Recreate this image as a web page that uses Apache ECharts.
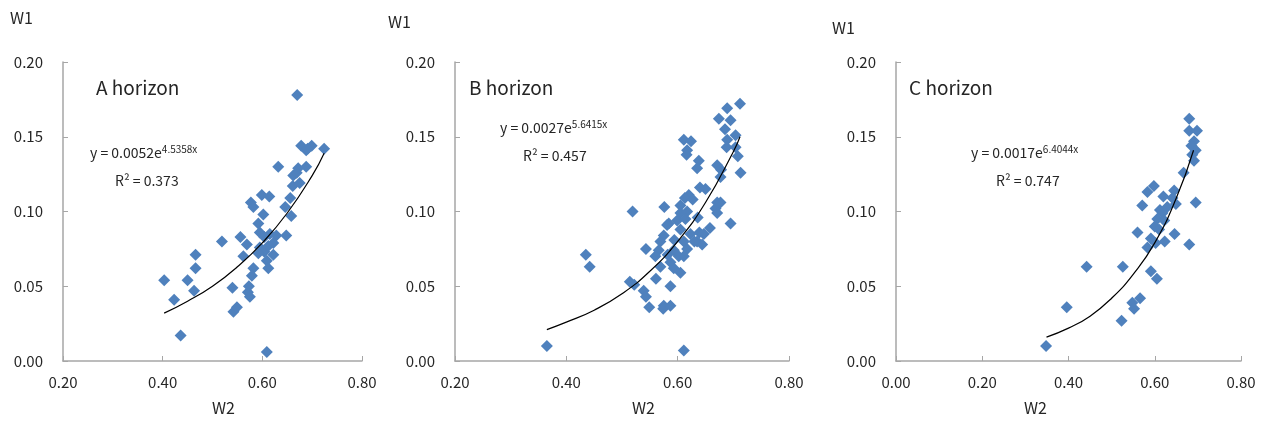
<!DOCTYPE html>
<html>
<head>
<meta charset="utf-8">
<script src="https://cdn.jsdelivr.net/npm/echarts@6/dist/echarts.min.js"></script>
<style>
  html, body { margin: 0; padding: 0; background: #fff; }
  #echart { width: 1265px; height: 426px; }
</style>
</head>
<body>
<div id="echart"></div>
<script>
// A horizon: [W2, W1]
var ptsA = [
  [0.670,0.178],[0.678,0.144],[0.699,0.144],[0.688,0.141],[0.724,0.142],[0.691,0.142],
  [0.632,0.130],[0.672,0.129],[0.688,0.130],[0.662,0.124],[0.669,0.126],[0.661,0.117],
  [0.675,0.119],[0.656,0.109],[0.646,0.103],[0.658,0.097],[0.648,0.084],[0.599,0.111],
  [0.614,0.110],[0.577,0.106],[0.582,0.103],[0.602,0.098],[0.592,0.092],[0.519,0.080],
  [0.556,0.083],[0.569,0.078],[0.595,0.086],[0.604,0.083],[0.615,0.085],[0.628,0.084],
  [0.595,0.076],[0.604,0.073],[0.622,0.071],[0.609,0.067],[0.562,0.070],[0.612,0.062],
  [0.582,0.062],[0.579,0.057],[0.573,0.050],[0.571,0.046],[0.575,0.043],[0.466,0.071],
  [0.466,0.062],[0.403,0.054],[0.450,0.054],[0.463,0.047],[0.423,0.041],[0.540,0.049],
  [0.542,0.033],[0.549,0.036],[0.436,0.017],[0.609,0.006],[0.622,0.079],[0.592,0.072],
  [0.612,0.077]
];
// B horizon
var ptsB = [
  [0.712,0.172],[0.689,0.169],[0.674,0.162],[0.695,0.161],[0.685,0.155],[0.704,0.151],
  [0.689,0.148],[0.688,0.143],[0.704,0.143],[0.611,0.148],[0.624,0.147],[0.617,0.141],
  [0.616,0.138],[0.638,0.134],[0.635,0.129],[0.708,0.137],[0.713,0.126],[0.671,0.131],
  [0.678,0.128],[0.677,0.123],[0.519,0.100],[0.576,0.103],[0.640,0.116],[0.650,0.115],
  [0.620,0.111],[0.613,0.109],[0.627,0.108],[0.605,0.104],[0.671,0.106],[0.677,0.106],
  [0.668,0.102],[0.671,0.099],[0.695,0.092],[0.605,0.099],[0.617,0.100],[0.599,0.094],
  [0.614,0.095],[0.636,0.096],[0.584,0.092],[0.581,0.091],[0.575,0.084],[0.605,0.088],
  [0.623,0.085],[0.639,0.086],[0.658,0.089],[0.647,0.085],[0.635,0.080],[0.644,0.078],
  [0.630,0.080],[0.611,0.080],[0.569,0.080],[0.566,0.074],[0.594,0.081],[0.593,0.074],
  [0.617,0.075],[0.543,0.075],[0.560,0.070],[0.582,0.071],[0.611,0.070],[0.435,0.071],
  [0.442,0.063],[0.569,0.063],[0.587,0.066],[0.593,0.062],[0.605,0.059],[0.602,0.070],
  [0.514,0.053],[0.522,0.051],[0.561,0.055],[0.587,0.050],[0.539,0.047],[0.543,0.043],
  [0.549,0.036],[0.575,0.037],[0.574,0.035],[0.587,0.037],[0.365,0.010],[0.611,0.007]
];
// C horizon
var ptsC = [
  [0.680,0.162],[0.680,0.154],[0.698,0.154],[0.691,0.147],[0.685,0.144],[0.695,0.141],
  [0.687,0.138],[0.691,0.134],[0.667,0.126],[0.598,0.117],[0.583,0.113],[0.645,0.114],
  [0.620,0.110],[0.641,0.109],[0.649,0.105],[0.695,0.106],[0.571,0.104],[0.612,0.101],
  [0.618,0.099],[0.606,0.095],[0.622,0.094],[0.600,0.090],[0.560,0.086],[0.646,0.085],
  [0.591,0.082],[0.602,0.079],[0.623,0.080],[0.583,0.076],[0.680,0.078],[0.442,0.063],
  [0.526,0.063],[0.591,0.060],[0.605,0.055],[0.396,0.036],[0.566,0.042],[0.548,0.039],
  [0.552,0.035],[0.523,0.027],[0.348,0.010],[0.629,0.103],[0.610,0.088]
];
// trend curves
var fitA = [[0.403,0.032],[0.45,0.040],[0.50,0.050],[0.55,0.063],[0.60,0.079],[0.65,0.099],[0.70,0.124],[0.724,0.139]];
var fitB = [[0.365,0.021],[0.40,0.026],[0.45,0.034],[0.50,0.045],[0.55,0.060],[0.60,0.080],[0.65,0.106],[0.70,0.140],[0.712,0.150]];
var fitC = [[0.349,0.016],[0.40,0.022],[0.45,0.030],[0.50,0.042],[0.55,0.058],[0.60,0.079],[0.65,0.109],[0.69,0.141]];

var yTicks = [0, 0.05, 0.10, 0.15, 0.20];

var FONT = "'Noto Sans CJK KR', 'Noto Sans', sans-serif";
var TXT = '#262626';
var AXC = '#a6a6a6';

var panels = [
  { pts: ptsA, fit: fitA, left: 63, right: 903, xmin: 0.2 },
  { pts: ptsB, fit: fitB, left: 455, right: 476, xmin: 0.2 },
  { pts: ptsC, fit: fitC, left: 896, right: 24, xmin: 0 }
];

var grid = [], xAxis = [], yAxis = [], series = [];
panels.forEach(function (p, i) {
  grid.push({ left: p.left, right: p.right, top: 62, bottom: 65 });
  xAxis.push({
    gridIndex: i, type: 'value', min: p.xmin, max: 0.8, interval: 0.2,
    axisLine: { lineStyle: { color: AXC, width: 1.5 } },
    axisTick: { inside: true, length: 5, lineStyle: { color: AXC } },
    splitLine: { show: false },
    axisLabel: { color: TXT, fontFamily: FONT, fontSize: 15, margin: 14,
      formatter: function (v) { return v.toFixed(2); } }
  });
  yAxis.push({
    gridIndex: i, type: 'value', min: 0, max: 0.2, interval: 0.05,
    axisLine: { show: true, lineStyle: { color: AXC, width: 1.5 } },
    axisTick: { show: true, inside: true, length: 5, lineStyle: { color: AXC } },
    splitLine: { show: false },
    axisLabel: { color: TXT, fontFamily: FONT, fontSize: 15, margin: 20,
      formatter: function (v) { return v.toFixed(2); } }
  });
  series.push({
    type: 'scatter', xAxisIndex: i, yAxisIndex: i, data: p.pts,
    symbol: 'diamond', symbolSize: [12, 12],
    itemStyle: { color: '#4f81bd', opacity: 1 }
  });
  series.push({
    type: 'line', xAxisIndex: i, yAxisIndex: i, data: p.fit, smooth: true,
    showSymbol: false, silent: true, z: 5,
    lineStyle: { color: '#000', width: 1.2 }
  });
});

function txt(x, y, s, size, extra) {
  var o = { type: 'text', left: x, top: y, z: 10,
    style: { text: s, fill: TXT, font: size + 'px ' + FONT } };
  if (extra) o.style.rich = extra;
  return o;
}
var supRich = {
  b: { fontSize: 14, fontFamily: FONT, fill: TXT, color: TXT },
  s: { fontSize: 10, fontFamily: FONT, color: TXT, verticalAlign: 'top', padding: [0, 0, 8, 0] }
};
function eq(x, y, a, e) {
  return { type: 'text', left: x, top: y, z: 10,
    style: { text: '{b|y = ' + a + 'e}{s|' + e + 'x}', rich: supRich, fill: TXT } };
}

var graphic = [
  txt(10, 10, 'W1', 16), txt(388, 14, 'W1', 16), txt(832, 20, 'W1', 16),
  txt(212, 400, 'W2', 16), txt(632, 400, 'W2', 16), txt(1024, 400, 'W2', 16),
  txt(96, 78, 'A horizon', 19), txt(469, 78, 'B horizon', 19), txt(909, 78, 'C horizon', 19),
  eq(90, 144, '0.0052', '4.5358'), eq(500, 119, '0.0027', '5.6415'), eq(971, 144, '0.0017', '6.4044'),
  txt(115, 174, 'R\u00b2 = 0.373', 14), txt(523, 149, 'R\u00b2 = 0.457', 14), txt(996, 174, 'R\u00b2 = 0.747', 14)
];

var myChart = echarts.init(document.getElementById('echart'));
myChart.setOption({
  animation: false,
  backgroundColor: '#fff',
  grid: grid, xAxis: xAxis, yAxis: yAxis, series: series, graphic: graphic
});
</script>
</body>
</html>
